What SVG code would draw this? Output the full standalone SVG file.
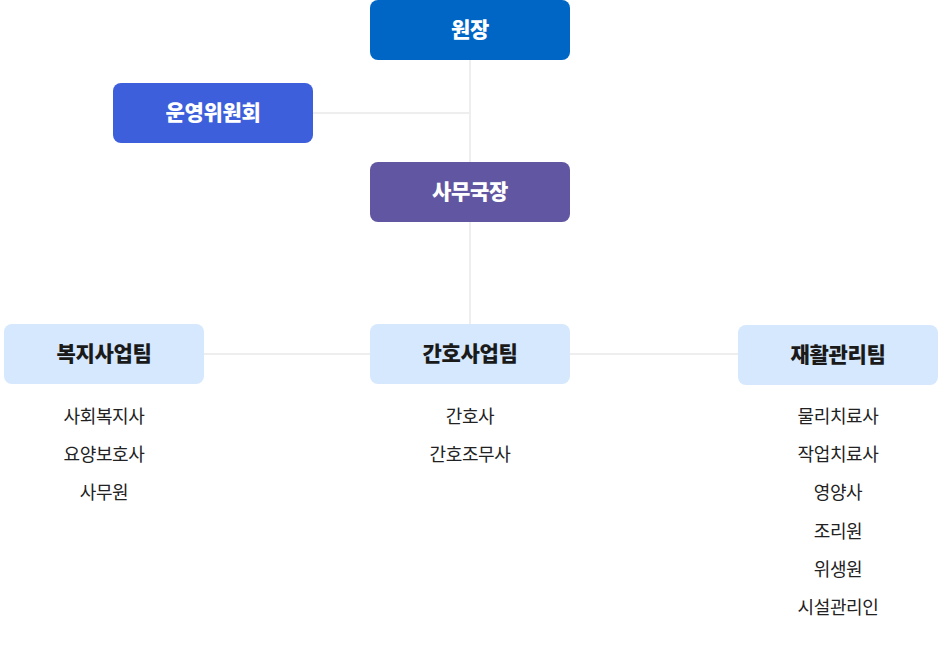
<svg xmlns="http://www.w3.org/2000/svg" width="940" height="660" viewBox="0 0 940 660">
<style>
.bx{stroke:none}
.lt{font-family:"Noto Sans CJK KR","Noto Sans",sans-serif;font-size:21px;font-weight:900;text-anchor:middle;letter-spacing:-0.3px}
.w{fill:#ffffff}
.d{fill:#1a1a1a}
.it{font-family:"Noto Sans CJK KR","Noto Sans",sans-serif;font-size:18px;fill:#222222;text-anchor:middle;letter-spacing:-0.4px}
.ln{stroke:#eeeeee;stroke-width:2;fill:none}
.team{fill:#d5e8fd}
</style>
<rect width="940" height="660" fill="#ffffff"/>
<g id="connectors">
<line class="ln" x1="470" y1="60" x2="470" y2="325"/>
<line class="ln" x1="313" y1="113" x2="470" y2="113"/>
<line class="ln" x1="204" y1="354" x2="370" y2="354"/>
<line class="ln" x1="570" y1="354" x2="738" y2="354"/>
</g>
<g id="n-director">
<rect class="bx" x="370" y="0" width="200" height="60" rx="8" fill="#0066c6"/>
<text class="lt w" x="470" y="37">원장</text>
</g>
<g id="n-committee">
<rect class="bx" x="113" y="83" width="200" height="60" rx="8" fill="#3e5fdb"/>
<text class="lt w" x="213" y="120">운영위원회</text>
</g>
<g id="n-secretary">
<rect class="bx" x="370" y="162" width="200" height="60" rx="8" fill="#6056a1"/>
<text class="lt w" x="470" y="199">사무국장</text>
</g>
<g id="n-welfare">
<rect class="team" x="4" y="324" width="200" height="60" rx="8"/>
<text class="lt d" x="104" y="361">복지사업팀</text>
<text class="it" x="104" y="423">사회복지사</text>
<text class="it" x="104" y="461">요양보호사</text>
<text class="it" x="104" y="499">사무원</text>
</g>
<g id="n-nursing">
<rect class="team" x="370" y="324" width="200" height="60" rx="8"/>
<text class="lt d" x="470" y="361">간호사업팀</text>
<text class="it" x="470" y="423">간호사</text>
<text class="it" x="470" y="461">간호조무사</text>
</g>
<g id="n-rehab">
<rect class="team" x="738" y="325" width="200" height="60" rx="8"/>
<text class="lt d" x="838" y="362">재활관리팀</text>
<text class="it" x="838" y="423">물리치료사</text>
<text class="it" x="838" y="461">작업치료사</text>
<text class="it" x="838" y="499">영양사</text>
<text class="it" x="838" y="538">조리원</text>
<text class="it" x="838" y="576">위생원</text>
<text class="it" x="838" y="614">시설관리인</text>
</g>
</svg>
